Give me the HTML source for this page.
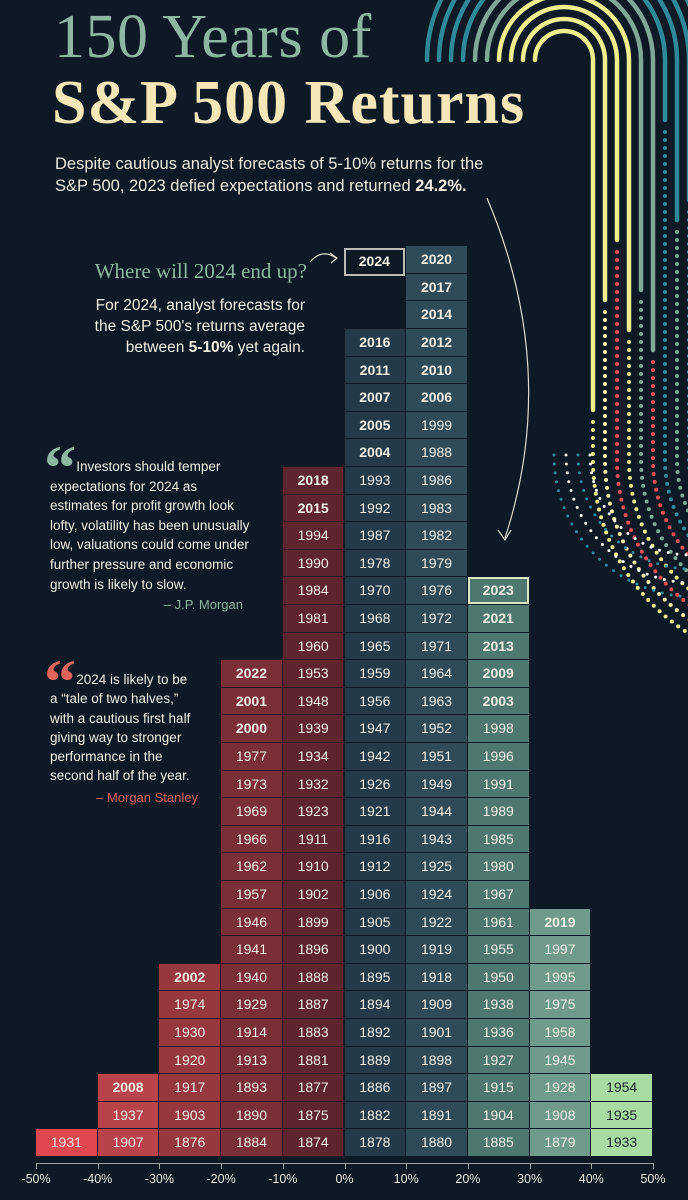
<!DOCTYPE html>
<html><head><meta charset="utf-8">
<style>
body{margin:0;background:#0d1925;width:688px;height:1200px;overflow:hidden;position:relative;font-family:"Liberation Sans",sans-serif;color:#f1efe6}
.abs{position:absolute}
.serif{font-family:"Liberation Serif",serif}
</style></head>
<body>
<svg class="abs" style="left:0;top:0" width="688" height="1200" id="deco"></svg>
<div class="abs serif" style="left:54px;top:2px;font-size:62px;color:#8db7a2;line-height:70px;letter-spacing:0.5px;white-space:nowrap">150 Years of</div>
<div class="abs serif" style="left:52px;top:68px;font-size:62px;font-weight:bold;color:#f6e7b9;line-height:70px;letter-spacing:1px;white-space:nowrap">S&amp;P 500 Returns</div>
<div class="abs" style="left:55px;top:153px;font-size:16.5px;line-height:22px;color:#eceae0;white-space:nowrap">Despite cautious analyst forecasts of 5-10% returns for the<br>S&amp;P 500, 2023 defied expectations and returned <b>24.2%.</b></div>
<div class="abs serif" style="right:381px;top:259px;font-size:21px;color:#8db7a2;white-space:nowrap">Where will 2024 end up?</div>
<div class="abs" style="right:383px;top:295px;font-size:15.5px;line-height:21px;text-align:right;white-space:nowrap">For 2024, analyst forecasts for<br>the S&amp;P 500's returns average<br>between <b>5-10%</b> yet again.</div>
<div class="abs serif" style="left:44px;top:436px;font-size:64px;line-height:64px;color:#8db7a2;font-weight:bold">“</div>
<div class="abs" style="left:50px;top:457px;font-size:13.5px;line-height:19.6px;white-space:nowrap">&nbsp;&nbsp;&nbsp;&nbsp;&nbsp;&nbsp;&nbsp;Investors should temper<br>expectations for 2024 as<br>estimates for profit growth look<br>lofty, volatility has been unusually<br>low, valuations could come under<br>further pressure and economic<br>growth is likely to slow.</div>
<div class="abs" style="right:445px;top:597px;font-size:13px;color:#8db7a2">– J.P. Morgan</div>
<div class="abs serif" style="left:44px;top:650px;font-size:64px;line-height:64px;color:#e0655c;font-weight:bold">“</div>
<div class="abs" style="left:50px;top:670px;font-size:13.5px;line-height:19.3px;white-space:nowrap">&nbsp;&nbsp;&nbsp;&nbsp;&nbsp;&nbsp;&nbsp;2024 is likely to be<br>a “tale of two halves,”<br>with a cautious first half<br>giving way to stronger<br>performance in the<br>second half of the year.</div>
<div class="abs" style="right:490px;top:790px;font-size:13px;color:#e0655c">– Morgan Stanley</div>
<div id="chart" class="abs" style="left:0;top:0;width:688px;height:1200px"></div>
<script>
const bins=[-50,-40,-30,-20,-10,0,10,20,30,40];
const yearsByBin=[
[1931],
[1907,1937,2008],
[1876,1903,1917,1920,1930,1974,2002],
[1884,1890,1893,1913,1914,1929,1940,1941,1946,1957,1962,1966,1969,1973,1977,2000,2001,2022],
[1874,1875,1877,1881,1883,1887,1888,1896,1899,1902,1910,1911,1923,1932,1934,1939,1948,1953,1960,1981,1984,1990,1994,2015,2018],
[1878,1882,1886,1889,1892,1894,1895,1900,1905,1906,1912,1916,1921,1926,1942,1947,1956,1959,1965,1968,1970,1978,1987,1992,1993,2004,2005,2007,2011,2016],
[1880,1891,1897,1898,1901,1909,1918,1919,1922,1924,1925,1943,1944,1949,1951,1952,1963,1964,1971,1972,1976,1979,1982,1983,1986,1988,1999,2006,2010,2012,2014,2017,2020],
[1885,1904,1915,1927,1936,1938,1950,1955,1961,1967,1980,1985,1989,1991,1996,1998,2003,2009,2013,2021,2023],
[1879,1908,1928,1945,1958,1975,1995,1997,2019],
[1933,1935,1954]];
const binColors=["#e0474f","#b8434a","#96383f","#7a2f37","#5e252e","#243a49","#2f4b58","#4e7770","#709a8c","#a9dca2"];
const tickLabels=[-50,-40,-30,-20,-10,0,10,20,30,40,50];
const highlight2024={bin:0,year:2024};
const highlightYear=2023;
const x=v=>36+(v+50)*6.17;
const rowH=27.6, base=1157;
const y=i=>base-(i+1)*rowH;
const C=document.getElementById('chart');
bins.forEach((b,bi)=>{
 yearsByBin[bi].forEach((yr,i)=>{
  const d=document.createElement('div');
  
  
  const hl=yr===highlightYear;
  d.style.cssText=`position:absolute;left:${x(b)}px;top:${y(i)}px;width:${x(b+10)-x(b)-1}px;height:${rowH-1}px;background:${binColors[bi]};color:${bi===9?'#17262a':'#f1efe6'};font-size:14px;line-height:${rowH-1}px;text-align:center;font-weight:${yr>=2000?'bold':'normal'};box-sizing:border-box;${hl?'border:2px solid #d8e6c8;line-height:'+(rowH-5)+'px;':''}`;
  d.textContent=yr;C.appendChild(d);
 });
});
{const n=yearsByBin[5].length;const d=document.createElement('div');


d.style.cssText=`position:absolute;left:${x(0)-1}px;top:${y(n+2)+2}px;width:${x(10)-x(0)}px;height:${rowH}px;border:2px solid #b9bcb6;box-sizing:border-box;font-weight:bold;font-size:14px;line-height:${rowH-4}px;text-align:center`;
d.textContent=highlight2024.year;C.appendChild(d);}
const ax=document.createElement('div');


ax.style.cssText=`position:absolute;left:${x(-50)}px;top:1163px;width:${x(50)-x(-50)}px;height:1px;background:#9aa0a0`;C.appendChild(ax);
tickLabels.forEach(t=>{
 const k=document.createElement('div');
 
 
 k.style.cssText=`position:absolute;left:${x(t)}px;top:1163px;width:1px;height:6px;background:#9aa0a0`;C.appendChild(k);
 const l=document.createElement('div');
 
 
 l.style.cssText=`position:absolute;left:${x(t)-25}px;top:1172px;width:50px;text-align:center;font-size:12.5px;color:#e8e8e0`;
 l.textContent=t+'%';C.appendChild(l);
});
const S=document.getElementById('deco');let s='';
const cols=['#eef08f','#eef08f','#eef08f','#eef08f','#7fa898','#7fa898','#2e8a98','#2e8a98','#2e8a98','#2e8a98'];
const dotc=['#eef08f','#fff3b0','#e2505a','#eef08f','#7fa898','#e2505a','#2e8a98','#7fa898','#2e8a98','#2e8a98'];
const rb=[410,300,240,330,290,350,120,220,200,150];
for(let k=0;k<10;k++){
 const r=29+12*k, cx=564, L=cx-r, R=cx+r, top=60;
 s+=`<path d="M${L} ${top} A${r} ${r} 0 0 1 ${R} ${top} L${R} ${rb[k]}" fill="none" stroke="${cols[k]}" stroke-width="4.5" stroke-linecap="round"/>`;
 const rr=688-R+110;
 s+=`<path d="M${R} ${rb[k]+12} L${R} 460 A${rr} ${rr} 0 0 0 ${R+rr} ${460+rr}" fill="none" stroke="${dotc[k]}" stroke-width="4" stroke-linecap="round" stroke-dasharray="0 8"/>`;
}
for(let k=0;k<4;k++){const X=590+k*2,rr=100+k*14;
 s+=`<path d="M${X-k*14} 455 A${rr} ${rr} 0 0 0 ${X-k*14+rr} ${455+rr}" fill="none" stroke="${k%2?'#2e8a98':'#ffffff'}" stroke-width="3" stroke-linecap="round" stroke-dasharray="0 9"/>`;}
s+=`<path d="M487 198 Q560 370 505 538" fill="none" stroke="#dcdcd0" stroke-width="1.2"/><path d="M498 530 L505 540 L511 530" fill="none" stroke="#dcdcd0" stroke-width="1.2"/>`;
s+=`<path d="M310 262 Q322 248 336 258" fill="none" stroke="#dcdcd0" stroke-width="1.2"/><path d="M330 253 L337 258 L331 263" fill="none" stroke="#dcdcd0" stroke-width="1.2"/>`;
S.innerHTML=s;
</script>
</body></html>
